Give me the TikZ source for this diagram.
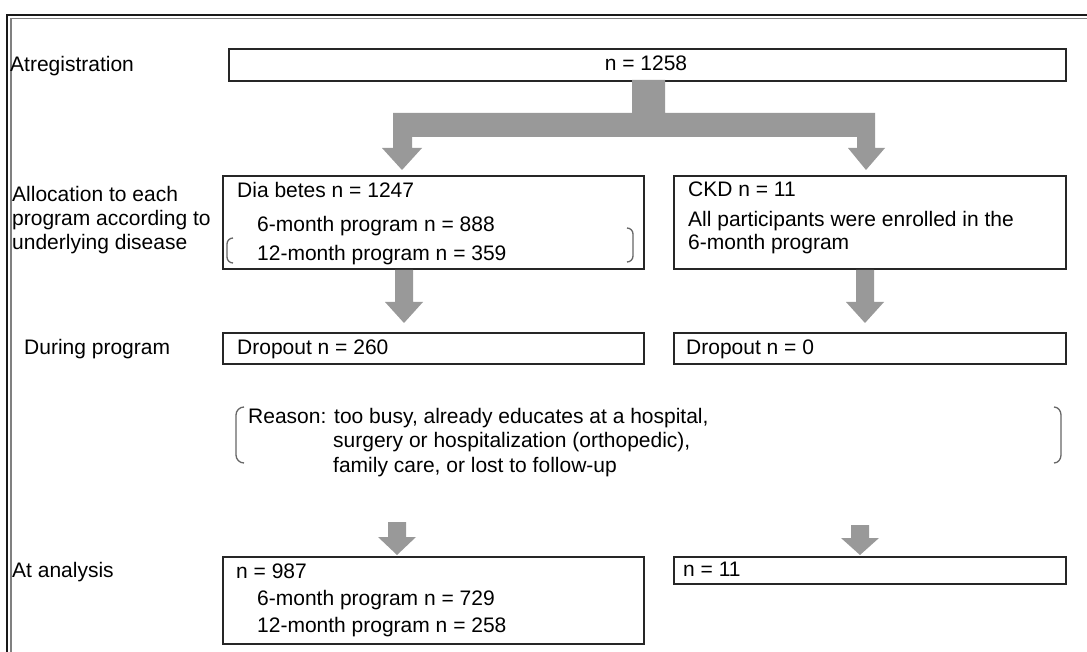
\documentclass[tikz,border=0pt]{standalone}
\usepackage{fontspec}
\setmainfont{Liberation Sans}
\tikzset{
  box/.style={draw=black!85, line width=1.6pt, anchor=north west, inner sep=0pt, fill=none},
  txt/.style={anchor=base west, inner sep=0pt, font=\fontsize{21}{24}\selectfont},
  arrowfill/.style={fill=black!40},
  brk/.style={draw=black!60, line width=1.3pt},
}
\newcommand\blkdown[4]{% x, top y, head start y, tip y
  \fill[arrowfill] ({#1-9},#2) -- ({#1+9},#2) -- ({#1+9},#3) -- ({#1+19},#3) -- (#1,#4) -- ({#1-19},#3) -- ({#1-9},#3) -- cycle;}
\begin{document}
\begin{tikzpicture}[x=1pt,y=-1pt]
\useasboundingbox (0,0) rectangle (1087,652);
% frame
\draw[black!50, line width=1.2pt] (11,652) -- (11,18.5) -- (1087,18.5);
\draw[black!90, line width=2pt] (7,652) -- (7,15) -- (1087,15);

% boxes
\node[box, minimum width=837pt, minimum height=32pt] (reg) at (228,48) {};
\node[box, minimum width=421pt, minimum height=93pt] (dia) at (222,175) {};
\node[box, minimum width=392pt, minimum height=93pt] (ckd) at (673,175) {};
\node[box, minimum width=421pt, minimum height=31pt] (dropL) at (222,332) {};
\node[box, minimum width=392pt, minimum height=31pt] (dropR) at (673,332) {};
\node[box, minimum width=421pt, minimum height=87pt] (anaL) at (222,556) {};
\node[box, minimum width=392pt, minimum height=27pt] (anaR) at (673,556) {};

% branch arrow
\fill[arrowfill] (632,80) -- (665,80) -- (665,113) -- (875,113) -- (875,148) -- (885,148) -- (866,170) -- (848,148) -- (857,148) -- (857,137) -- (412,137) -- (412,148) -- (422,148) -- (402,170) -- (382,148) -- (393,148) -- (393,113) -- (632,113) -- cycle;

% down arrows
\blkdown{404}{270}{302}{323}
\blkdown{865}{270}{302}{323}
\blkdown{397}{522}{537}{555}
\blkdown{860}{525}{538}{555}

% brackets
\draw[brk] (233,238) to[out=180,in=90] (227,244) -- (227,257) to[out=-90,in=180] (233,263);
\draw[brk] (627,228) to[out=0,in=90] (633,234) -- (633,256) to[out=-90,in=0] (627,262);
\draw[brk] (244,407) to[out=180,in=90] (236,415) -- (236,455) to[out=-90,in=180] (244,463);
\draw[brk] (1054,407) to[out=0,in=90] (1061,415) -- (1061,455) to[out=-90,in=0] (1054,463);

% left labels
\node[txt] (l1) at (10,72) {Atregistration};
\node[txt] (l2a) at (12,202) {Allocation to each};
\node[txt] (l2b) at (12,226) {program according to};
\node[txt] (l2c) at (12,250) {underlying disease};
\node[txt] (l3) at (24,355) {During program};
\node[txt] (l4) at (12,577) {At analysis};

% box texts
\node[txt, anchor=base] (t1) at (646,71) {n = 1258};
\node[txt] (d1) at (237,198) {Dia betes n = 1247};
\node[txt] (d2) at (257,232) {6-month program n = 888};
\node[txt] (d3) at (257,261) {12-month program n = 359};
\node[txt] (c1) at (688,197) {CKD n = 11};
\node[txt] (c2) at (688,227) {All participants were enrolled in the};
\node[txt] (c3) at (688,250) {6-month program};
\node[txt] (p1) at (237,355) {Dropout n = 260};
\node[txt] (p2) at (686,355) {Dropout n = 0};
\node[txt] (r1) at (248,423) {Reason: too busy, already educates at a hospital,};
\node[txt] (r2) at (333,447) {surgery or hospitalization (orthopedic),};
\node[txt] (r3) at (333,472) {family care, or lost to follow-up};
\node[txt] (a1) at (236,578) {n = 987};
\node[txt] (a2) at (257,605) {6-month program n = 729};
\node[txt] (a3) at (257,632) {12-month program n = 258};
\node[txt] (a4) at (683,576) {n = 11};
\end{tikzpicture}
\end{document}
